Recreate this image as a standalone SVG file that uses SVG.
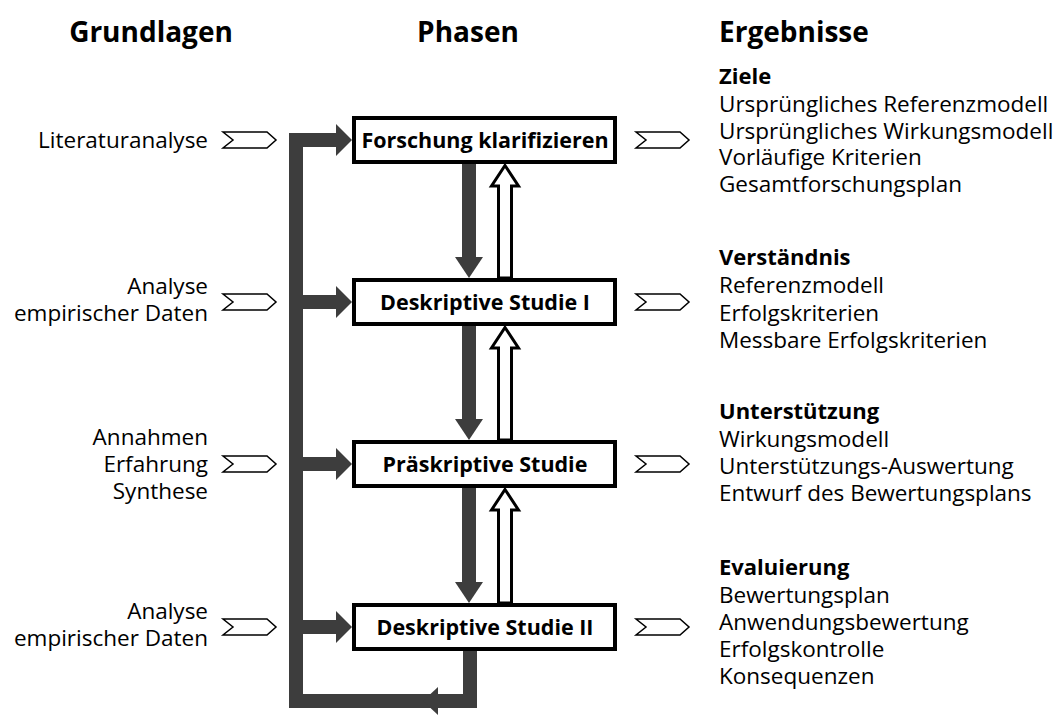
<svg xmlns="http://www.w3.org/2000/svg" width="1062" height="715" viewBox="0 0 1062 715">
  <style>
    text { font-family: "Open Sans", "Noto Sans", "DejaVu Sans", sans-serif; fill: #000; }
    .h { font-size: 28px; font-weight: bold; }
    .t { font-size: 22.5px; }
    .b { font-size: 22px; font-weight: bold; }
    .box { fill: #fff; stroke: #000; stroke-width: 4; }
    .lbl { font-size: 21.5px; font-weight: bold; text-anchor: middle; }
    .chev { fill: #fff; stroke: #000; stroke-width: 1.5; stroke-linejoin: miter; }
    .flow { fill: none; stroke: #3d3d3d; stroke-width: 14; stroke-linejoin: miter; stroke-linecap: butt; }
    .head { fill: #3d3d3d; }
    .back { fill: #fff; stroke: #000; stroke-width: 3; stroke-linejoin: miter; }
    .r { text-anchor: end; }
  </style>

  <!-- column headings -->
  <text class="h" x="151" y="42" text-anchor="middle">Grundlagen</text>
  <text class="h" x="468" y="42" text-anchor="middle">Phasen</text>
  <text class="h" x="719" y="42">Ergebnisse</text>

  <!-- connectors -->
  <g id="connectors">
    <!-- feedback loop from last phase back to the first -->
    <path class="flow" d="M470,651 V701 H296 V140 H338"/>
    <polygon class="head" points="438,687 423,701 438,715"/>
    <polygon class="head" points="336,124 352,140 336,156"/>
    <!-- branches into the other phases -->
    <path class="flow" d="M296,302 H338 M296,464 H338 M296,627 H338"/>
    <polygon class="head" points="336,286 352,302 336,318"/>
    <polygon class="head" points="336,448 352,464 336,480"/>
    <polygon class="head" points="336,611 352,627 336,643"/>

    <!-- forward arrows between phases -->
    <path class="flow" d="M469,164 V258 M469,326 V420 M469,488 V583"/>
    <polygon class="head" points="455,257 483,257 469,278"/>
    <polygon class="head" points="455,419 483,419 469,440"/>
    <polygon class="head" points="455,582 483,582 469,603"/>

    <!-- hollow return arrows between phases -->
    <polygon class="back" points="505,165.5 518.5,186 511.5,186 511.5,278 498.5,278 498.5,186 491.5,186"/>
    <polygon class="back" points="505,327.5 518.5,348 511.5,348 511.5,440 498.5,440 498.5,348 491.5,348"/>
    <polygon class="back" points="505,489.5 518.5,510 511.5,510 511.5,603 498.5,603 498.5,510 491.5,510"/>

    <!-- input chevrons -->
    <polygon class="chev" points="223,132 267,132 276,140 267,148 223,148 233,140"/>
    <polygon class="chev" points="223,294 267,294 276,302 267,310 223,310 233,302"/>
    <polygon class="chev" points="223,456 267,456 276,464 267,472 223,472 233,464"/>
    <polygon class="chev" points="223,619 267,619 276,627 267,635 223,635 233,627"/>
    <!-- output chevrons -->
    <polygon class="chev" points="636,132 680,132 689,140 680,148 636,148 646,140"/>
    <polygon class="chev" points="636,294 680,294 689,302 680,310 636,310 646,302"/>
    <polygon class="chev" points="636,456 680,456 689,464 680,472 636,472 646,464"/>
    <polygon class="chev" points="636,619 680,619 689,627 680,635 636,635 646,627"/>
  </g>

  <!-- phases -->
  <g id="phase-clarify">
    <rect class="box" x="354" y="118" width="261" height="44"/>
    <text class="lbl" x="485" y="148">Forschung klarifizieren</text>
  </g>
  <g id="phase-ds1">
    <rect class="box" x="354" y="280" width="261" height="44"/>
    <text class="lbl" x="485" y="310">Deskriptive Studie I</text>
  </g>
  <g id="phase-ps">
    <rect class="box" x="354" y="442" width="261" height="44"/>
    <text class="lbl" x="485" y="472">Präskriptive Studie</text>
  </g>
  <g id="phase-ds2">
    <rect class="box" x="354" y="605" width="261" height="44"/>
    <text class="lbl" x="485" y="635">Deskriptive Studie II</text>
  </g>

  <!-- foundations -->
  <g id="basis-1">
    <text class="t r" x="208" y="148">Literaturanalyse</text>
  </g>
  <g id="basis-2">
    <text class="t r" x="208" y="294">Analyse</text>
    <text class="t r" x="208" y="321">empirischer Daten</text>
  </g>
  <g id="basis-3">
    <text class="t r" x="208" y="445">Annahmen</text>
    <text class="t r" x="208" y="472">Erfahrung</text>
    <text class="t r" x="208" y="499">Synthese</text>
  </g>
  <g id="basis-4">
    <text class="t r" x="208" y="619">Analyse</text>
    <text class="t r" x="208" y="646">empirischer Daten</text>
  </g>

  <!-- results -->
  <g id="result-1">
    <text class="b" x="719" y="84">Ziele</text>
    <text class="t" x="719" y="112">Ursprüngliches Referenzmodell</text>
    <text class="t" x="719" y="139">Ursprüngliches Wirkungsmodell</text>
    <text class="t" x="719" y="165">Vorläufige Kriterien</text>
    <text class="t" x="719" y="192">Gesamtforschungsplan</text>
  </g>
  <g id="result-2">
    <text class="b" x="719" y="265">Verständnis</text>
    <text class="t" x="719" y="293">Referenzmodell</text>
    <text class="t" x="719" y="321">Erfolgskriterien</text>
    <text class="t" x="719" y="348">Messbare Erfolgskriterien</text>
  </g>
  <g id="result-3">
    <text class="b" x="719" y="419">Unterstützung</text>
    <text class="t" x="719" y="447">Wirkungsmodell</text>
    <text class="t" x="719" y="474">Unterstützungs-Auswertung</text>
    <text class="t" x="719" y="501">Entwurf des Bewertungsplans</text>
  </g>
  <g id="result-4">
    <text class="b" x="719" y="575">Evaluierung</text>
    <text class="t" x="719" y="603">Bewertungsplan</text>
    <text class="t" x="719" y="630">Anwendungsbewertung</text>
    <text class="t" x="719" y="657">Erfolgskontrolle</text>
    <text class="t" x="719" y="684">Konsequenzen</text>
  </g>
</svg>
